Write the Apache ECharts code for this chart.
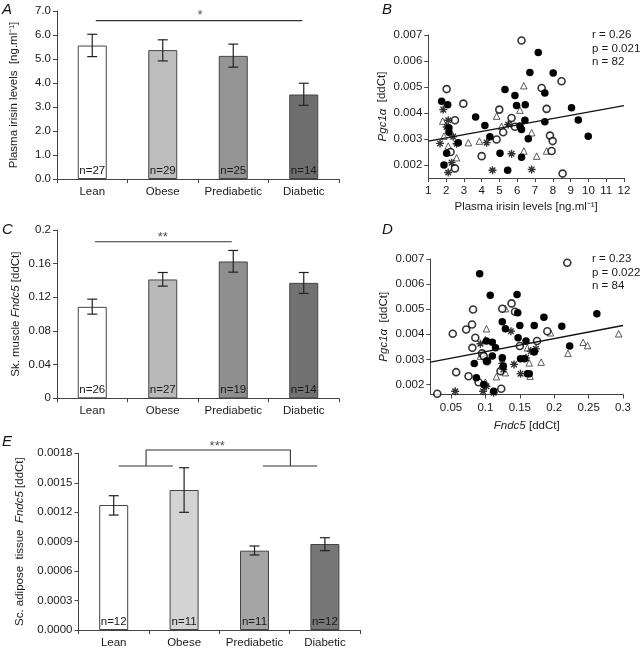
<!DOCTYPE html>
<html><head><meta charset="utf-8">
<script src="https://cdn.jsdelivr.net/npm/echarts@6/dist/echarts.min.js"></script>
<style>html,body{margin:0;padding:0;background:#fff}#c{width:641px;height:650px}</style>
</head><body><div id="c"></div>
<script>
// ---------- DATA ----------
const categories = ['Lean', 'Obese', 'Prediabetic', 'Diabetic'];

// Panel A: plasma irisin
const irisinMean = [5.56, 5.37, 5.13, 3.52];
const irisinLow  = [5.10, 4.92, 4.66, 3.07];
const irisinHigh = [6.03, 5.80, 5.62, 3.99];
const irisinN    = [27, 29, 25, 14];

// Panel C: skeletal muscle Fndc5
const muscleMean = [0.1087, 0.1412, 0.1626, 0.1372];
const muscleLow  = [0.1000, 0.1333, 0.1499, 0.1246];
const muscleHigh = [0.1178, 0.1495, 0.1757, 0.1495];
const muscleN    = [26, 27, 19, 14];

// Panel E: adipose Fndc5
const adiposeMean = [0.001273, 0.001426, 0.000808, 0.000876];
const adiposeLow  = [0.001171, 0.001199, 0.000764, 0.000808];
const adiposeHigh = [0.001368, 0.001653, 0.000856, 0.000940];
const adiposeN    = [12, 11, 11, 12];

// significance annotations (category index, value)
const sigA = [[0.05, 6.6], [2.98, 6.6]];
const sigAStar = [[1.53, 6.8]];
const sigC = [[0.04, 0.186], [1.98, 0.186]];
const sigCStar = [[1.0, 0.1915]];
const sigELeft = [[0.07, 0.00167], [0.84, 0.00167]];
const sigEBracket = [[0.46, 0.00167], [0.46, 0.001834], [2.51, 0.001834], [2.51, 0.00167]];
const sigERight = [[2.12, 0.00167], [2.89, 0.00167]];
const sigEStar = [[1.47, 0.001874]];

// Panel B: Pgc1a vs plasma irisin
const bFilled = [[1.75,0.00445],[2.09,0.00432],[1.88,0.00200],[2.03,0.00245],[2.16,0.00343],[2.16,0.00326],
  [2.69,0.00286],[3.66,0.00385],[4.18,0.00352],[4.46,0.00309],[5.03,0.00245],[5.31,0.00490],[5.46,0.00180],
  [5.87,0.00467],[5.96,0.00429],[6.15,0.00350],[6.24,0.00337],[6.43,0.00372],[6.45,0.00432],[6.71,0.00556],
  [6.62,0.00301],[6.24,0.00230],[7.18,0.00633],[7.55,0.00477],[7.55,0.00366],[8.02,0.00554],[9.05,0.00420],
  [9.43,0.00373],[9.99,0.00311]];
const bOpen = [[2.03,0.00492],[2.97,0.00436],[2.50,0.00372],[2.25,0.00250],[2.50,0.00187],[4.00,0.00234],
  [4.84,0.00298],[4.99,0.00413],[5.21,0.00326],[5.68,0.00381],[5.87,0.00347],[6.24,0.00679],[7.37,0.00496],
  [7.65,0.00416],[8.49,0.00522],[7.84,0.00313],[7.99,0.00292],[7.93,0.00254],[8.55,0.00167]];
const bTri = [[1.81,0.00369],[1.88,0.00311],[2.12,0.00273],[2.59,0.00228],[3.25,0.00286],[3.87,0.00292],
  [4.84,0.00388],[5.12,0.00349],[5.59,0.00362],[6.15,0.00411],[6.37,0.00254],[6.37,0.00505],[6.81,0.00324],
  [7.09,0.00234],[7.65,0.00254]];
const bAst = [[1.84,0.00413],[1.66,0.00283],[2.12,0.00372],[2.03,0.00346],[2.40,0.00309],[2.59,0.00282],
  [2.12,0.00171],[4.28,0.00286],[4.61,0.00180],[5.68,0.00243],[6.81,0.00183],[5.49,0.00356],[2.31,0.00209]];
const bFit = [[1, 0.00292], [12, 0.00428]];
const bStats = ['r = 0.26', 'p = 0.021', 'n = 82'];

// Panel D: Pgc1a vs muscle Fndc5
const dFilled = [[0.0916,0.00641],[0.107,0.00556],[0.146,0.00559],[0.147,0.00486],[0.1245,0.00450],
  [0.129,0.00422],[0.150,0.00435],[0.171,0.00435],[0.185,0.00468],[0.211,0.00432],[0.2225,0.00353],
  [0.262,0.00482],[0.1475,0.00386],[0.159,0.00373],[0.151,0.00302],[0.157,0.00302],[0.171,0.00329],
  [0.1015,0.00373],[0.110,0.00368],[0.1147,0.00346],[0.110,0.00313],[0.1015,0.00293],[0.0838,0.00284],
  [0.1245,0.00306],[0.126,0.00273],[0.0868,0.00227],[0.0975,0.00200],[0.112,0.00173],[0.161,0.00243],
  [0.1637,0.00243]];
const dOpen = [[0.219,0.00685],[0.082,0.00499],[0.0805,0.00439],[0.072,0.00419],[0.0525,0.00402],
  [0.0853,0.00386],[0.081,0.00346],[0.0951,0.00324],[0.0975,0.00313],[0.1025,0.00293],[0.0574,0.00249],
  [0.0754,0.00233],[0.090,0.00209],[0.030,0.00163],[0.123,0.00183],[0.1245,0.00502],[0.138,0.00523],
  [0.143,0.00490],[0.150,0.00353],[0.175,0.00373],[0.190,0.00412],[0.122,0.00253]];
const dTri = [[0.1015,0.00422],[0.100,0.00379],[0.0927,0.00313],[0.100,0.00209],[0.116,0.00231],
  [0.129,0.00247],[0.129,0.00502],[0.161,0.00346],[0.1637,0.00286],[0.165,0.00233],[0.181,0.00289],
  [0.1946,0.00406],[0.220,0.00324],[0.242,0.00368],[0.2485,0.00355],[0.2937,0.00402]];
const dAst = [[0.056,0.00173],[0.0966,0.00173],[0.0927,0.00362],[0.1245,0.00284],[0.126,0.00260],
  [0.1416,0.00280],[0.137,0.00412],[0.151,0.00243],[0.1735,0.00342],[0.166,0.00333],[0.159,0.00306],
  [0.112,0.00167],[0.1015,0.00193]];
const dFit = [[0.02, 0.00289], [0.3, 0.00435]];
const dStats = ['r = 0.23', 'p = 0.022', 'n = 84'];

const pgcTicks = [0.002, 0.003, 0.004, 0.005, 0.006, 0.007];
const fndcTicks = [0.05, 0.1, 0.15, 0.2, 0.25, 0.3];

// ---------- STYLE ----------
const FONT = '"Liberation Sans", Arial, Helvetica, sans-serif';
const FS = 11.5;
const AX = '#444';
const TXT = '#1a1a1a';
const colorsA = ['#ffffff', '#bdbdbd', '#959595', '#6e6e6e'];
const colorsC = ['#ffffff', '#b9b9b9', '#8f8f8f', '#727272'];
const colorsE = ['#ffffff', '#d3d3d3', '#a5a5a5', '#777777'];
const ASTERISK = 'path://M5,0L5,10M0,5L10,5M1.5,1.5L8.5,8.5M1.5,8.5L8.5,1.5';

const baseLabel = {color: TXT, fontSize: FS, fontFamily: FONT};

function catX(grid) {
  return {type: 'category', gridIndex: grid, data: categories,
    axisLine: {onZero: false, lineStyle: {color: AX, width: 1}},
    axisTick: {show: true, length: 4, lineStyle: {color: AX}},
    axisLabel: Object.assign({margin: 7, interval: 0}, baseLabel)};
}
function hiddenX(grid) {
  return {type: 'value', gridIndex: grid, min: -0.5, max: 3.5, show: false,
    axisLine: {show: false, onZero: false}, axisTick: {show: false}, axisLabel: {show: false}, splitLine: {show: false}};
}
function valY(grid, min, max, interval, fmt, name, nameGap, rich) {
  return {type: 'value', gridIndex: grid, min, max, interval,
    axisLine: {show: true, onZero: false, lineStyle: {color: AX}},
    axisTick: {show: true, length: 4, lineStyle: {color: AX}},
    splitLine: {show: false},
    axisLabel: Object.assign({margin: 6, formatter: fmt}, baseLabel),
    name, nameLocation: 'middle', nameGap,
    nameTextStyle: {color: TXT, fontSize: FS, fontFamily: FONT, rich: rich || {}}};
}
function errRender(params, api) {
  const x = api.value(0), lo = api.value(1), hi = api.value(2);
  const a = api.coord([x, lo]), b = api.coord([x, hi]);
  const w = 5, st = {stroke: '#222', lineWidth: 1.2};
  return {type: 'group', children: [
    {type: 'line', shape: {x1: a[0], y1: a[1], x2: b[0], y2: b[1]}, style: st},
    {type: 'line', shape: {x1: a[0] - w, y1: a[1], x2: a[0] + w, y2: a[1]}, style: st},
    {type: 'line', shape: {x1: b[0] - w, y1: b[1], x2: b[0] + w, y2: b[1]}, style: st}
  ]};
}
function barSeries(xi, yi, mean, colors, N) {
  return {type: 'bar', xAxisIndex: xi, yAxisIndex: yi, barWidth: 29,
    data: mean.map((v, i) => ({value: v, itemStyle: {color: colors[i]}})),
    itemStyle: {borderColor: '#444', borderWidth: 1},
    label: Object.assign({show: true, position: 'insideBottom', distance: 2,
      formatter: p => 'n=' + N[p.dataIndex]}, baseLabel),
    emphasis: {disabled: true}};
}
function errSeries(xi, yi, low, high) {
  // xi: hidden value axis spanning -0.5..3.5 so that index i sits on category i
  return {type: 'custom', xAxisIndex: xi, yAxisIndex: yi, renderItem: errRender,
    encode: {x: 0, y: [1, 2]}, z: 5, clip: false,
    data: low.map((v, i) => [i, v, high[i]])};
}
function sigLine(xi, yi, data) {
  return {type: 'line', xAxisIndex: xi, yAxisIndex: yi, data, symbol: 'none', clip: false,
    lineStyle: {color: '#333', width: 1.1}, silent: true, animation: false};
}
function starSeries(xi, yi, data, text) {
  return {type: 'scatter', xAxisIndex: xi, yAxisIndex: yi, data, symbolSize: 1, clip: false,
    itemStyle: {color: 'rgba(0,0,0,0)'},
    label: {show: true, position: 'inside', formatter: text, color: '#222', fontSize: 13, fontFamily: FONT},
    silent: true};
}
function scatterSet(xi, yi, filled, open, tri, ast) {
  return [
    {type: 'scatter', xAxisIndex: xi, yAxisIndex: yi, data: tri, symbol: 'triangle', symbolSize: 6.5,
      itemStyle: {color: '#fff', borderColor: '#333', borderWidth: 1}},
    {type: 'scatter', xAxisIndex: xi, yAxisIndex: yi, data: open, symbol: 'circle', symbolSize: 7,
      itemStyle: {color: '#fff', borderColor: '#000', borderWidth: 1.6}},
    {type: 'scatter', xAxisIndex: xi, yAxisIndex: yi, data: ast, symbol: ASTERISK, symbolSize: 8,
      itemStyle: {color: '#000', borderColor: '#000', borderWidth: 1.4}},
    {type: 'scatter', xAxisIndex: xi, yAxisIndex: yi, data: filled, symbol: 'circle', symbolSize: 7.5,
      itemStyle: {color: '#000', borderColor: '#000', borderWidth: 0, opacity: 1}}
  ];
}
function fitLine(xi, yi, data) {
  return {type: 'line', xAxisIndex: xi, yAxisIndex: yi, data, symbol: 'none', z: 4,
    lineStyle: {color: '#111', width: 1.3}, silent: true};
}
function scatterX(grid, min, max, interval, custom, name, nameGap, rich) {
  const ax = {type: 'value', gridIndex: grid, min, max, interval,
    axisLine: {show: true, onZero: false, lineStyle: {color: AX}},
    axisTick: {show: true, length: 4, lineStyle: {color: AX}},
    splitLine: {show: false},
    axisLabel: Object.assign({margin: 7, showMinLabel: true, showMaxLabel: true}, baseLabel),
    name, nameLocation: 'middle', nameGap,
    nameTextStyle: {color: TXT, fontSize: FS, fontFamily: FONT, rich: rich || {}}};
  if (custom) { ax.axisTick.customValues = custom; ax.axisLabel.customValues = custom; }
  return ax;
}
function scatterY(grid, min, max, custom, name, nameGap, rich) {
  return {type: 'value', gridIndex: grid, min, max,
    axisLine: {show: true, onZero: false, lineStyle: {color: AX}},
    axisTick: {show: true, length: 4, lineStyle: {color: AX}, customValues: custom},
    splitLine: {show: false},
    axisLabel: Object.assign({margin: 6, customValues: custom, formatter: v => v.toFixed(3)}, baseLabel),
    name, nameLocation: 'middle', nameGap,
    nameTextStyle: {color: TXT, fontSize: FS, fontFamily: FONT, rich: rich || {}}};
}

const italicRich = {i: {fontStyle: 'italic', fontSize: FS, fontFamily: FONT, color: TXT},
                    n: {fontSize: FS, fontFamily: FONT, color: TXT}};

function letter(t, x, y) {
  return {type: 'text', left: x, top: y, style: {text: t, fontSize: 15, fontStyle: 'italic', fontFamily: FONT, fill: '#111'}};
}
function stats(lines, x, y) {
  return lines.map((t, i) => ({type: 'text', left: x, top: y + i * 13.5,
    style: {text: t, fontSize: FS, fontFamily: FONT, fill: TXT}}));
}

const option = {
  animation: false,
  backgroundColor: '#fff',
  grid: [
    {left: 57, top: 11, width: 282, height: 168},
    {left: 428.3, top: 35, width: 195.7, height: 143},
    {left: 57, top: 230, width: 282, height: 168.3},
    {left: 430.4, top: 259, width: 192.6, height: 135.5},
    {left: 78.5, top: 453.3, width: 281.6, height: 176.7}
  ],
  xAxis: [
    catX(0), hiddenX(0),
    scatterX(1, 1, 12, 1, null, 'Plasma irisin levels [ng.ml⁻¹]', 23),
    catX(2), hiddenX(2),
    scatterX(3, 0.02, 0.3, 0.05, fndcTicks, '{i|Fndc5} {n|[ddCt]}', 25, italicRich),
    catX(4), hiddenX(4)
  ],
  yAxis: [
    valY(0, 0, 7, 1, v => v.toFixed(1), 'Plasma irisin levels  [ng.ml⁻¹]', 37),
    scatterY(1, 0.0015, 0.007, pgcTicks, '{i|Pgc1α}  {n|[ddCt]}', 40, italicRich),
    valY(2, 0, 0.2, 0.04, v => v === 0 ? '0' : String(+v.toFixed(2)), '{n|Sk. muscle} {i|Fndc5} {n|[ddCt]}', 35, italicRich),
    scatterY(3, 0.0016, 0.007, pgcTicks, '{i|Pgc1α}  {n|[ddCt]}', 41, italicRich),
    valY(4, 0, 0.0018, 0.0003, v => v.toFixed(4), '{n|Sc. adipose  tissue}  {i|Fndc5} {n|[ddCt]}', 53, italicRich)
  ],
  series: [
    barSeries(0, 0, irisinMean, colorsA, irisinN),
    errSeries(1, 0, irisinLow, irisinHigh),
    sigLine(1, 0, sigA),
    starSeries(1, 0, sigAStar, '*'),

    ...scatterSet(2, 1, bFilled, bOpen, bTri, bAst),
    fitLine(2, 1, bFit),

    barSeries(3, 2, muscleMean, colorsC, muscleN),
    errSeries(4, 2, muscleLow, muscleHigh),
    sigLine(4, 2, sigC),
    starSeries(4, 2, sigCStar, '**'),

    ...scatterSet(5, 3, dFilled, dOpen, dTri, dAst),
    fitLine(5, 3, dFit),

    barSeries(6, 4, adiposeMean, colorsE, adiposeN),
    errSeries(7, 4, adiposeLow, adiposeHigh),
    sigLine(7, 4, sigELeft),
    sigLine(7, 4, sigEBracket),
    sigLine(7, 4, sigERight),
    starSeries(7, 4, sigEStar, '***')
  ],
  graphic: [
    letter('A', 2, 2), letter('B', 382, 2), letter('C', 2, 222), letter('D', 382, 222), letter('E', 2, 434),
    ...stats(bStats, 592, 29), ...stats(dStats, 592, 253)
  ]
};
const chart = echarts.init(document.getElementById('c'), null, {renderer: 'canvas'});
chart.setOption(option);
</script></body></html>
